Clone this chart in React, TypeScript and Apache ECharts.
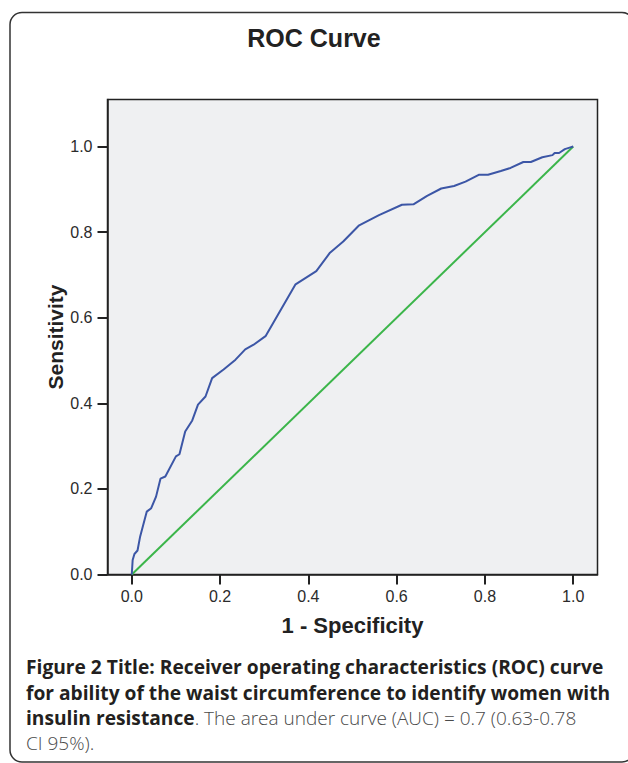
import React, { useEffect, useRef } from "react";
import * as echarts from "echarts";

// 1 - Specificity (false positive rate)
const fprValues = [
  0, 0.002, 0.006, 0.013, 0.019, 0.034, 0.044, 0.055, 0.065, 0.076, 0.1, 0.108,
  0.121, 0.137, 0.15, 0.167, 0.182, 0.208, 0.235, 0.257, 0.276, 0.303, 0.371,
  0.418, 0.449, 0.479, 0.514, 0.56, 0.612, 0.638, 0.669, 0.701, 0.73, 0.756,
  0.786, 0.807, 0.836, 0.858, 0.887, 0.904, 0.93, 0.953, 0.958, 0.968, 0.981,
  0.99, 1,
];
// Sensitivity (true positive rate)
const tprValues = [
  0, 0.034, 0.048, 0.056, 0.089, 0.147, 0.155, 0.182, 0.224, 0.229, 0.276,
  0.281, 0.334, 0.36, 0.397, 0.416, 0.459, 0.479, 0.502, 0.526, 0.537, 0.557,
  0.678, 0.709, 0.752, 0.778, 0.815, 0.84, 0.864, 0.865, 0.885, 0.902, 0.908,
  0.918, 0.934, 0.934, 0.943, 0.95, 0.964, 0.964, 0.975, 0.98, 0.985, 0.985,
  0.994, 0.997, 1,
];
// Reference (chance) diagonal
const refX = [0, 1];
const refY = [0, 1];

const xTicks = [0, 0.2, 0.4, 0.6, 0.8, 1.0];
const yTicks = [0, 0.2, 0.4, 0.6, 0.8, 1.0];

const chartTitle = "ROC Curve";
const xName = "1 - Specificity";
const yName = "Sensitivity";
const captionLines = [
  "{b|Figure 2 Title: Receiver operating characteristics (ROC) curve}",
  "{b|for ability of the waist circumference to identify women with}",
  "{b|insulin resistance}{n|. The area under curve (AUC) = 0.7 (0.63-0.78}",
  "{n|CI 95%).}",
];

export default function App() {
  const ref = useRef<HTMLDivElement>(null);

  useEffect(() => {
    if (!ref.current) return;
    const chart = echarts.init(ref.current, null, { renderer: "svg" });
    const axisFont = "'Liberation Sans', Arial, sans-serif";
    const capFont = "'Open Sans', 'Noto Sans', sans-serif";
    const lineCenters = [666, 692, 717.5, 743];

    chart.setOption({
      animation: false,
      backgroundColor: "#ffffff",
      grid: {
        left: 107.5,
        right: 30.5,
        top: 99.5,
        bottom: 188.5,
        show: true,
        backgroundColor: "#eff0f2",
        borderColor: "#222222",
        borderWidth: 1.5,
      },
      xAxis: {
        type: "value",
        min: -0.055,
        max: 1.055,
        name: xName,
        nameLocation: "middle",
        nameGap: 40,
        nameMoveOverlap: false,
        nameTextStyle: {
          fontFamily: axisFont,
          fontWeight: "bold",
          fontSize: 22,
          color: "#222222",
        },
        axisLine: { show: true, onZero: false, lineStyle: { color: "#222222", width: 1.5 } },
        axisTick: {
          show: true,
          length: 10,
          customValues: xTicks,
          lineStyle: { color: "#222222", width: 2 },
        },
        axisLabel: {
          customValues: xTicks,
          formatter: (v: number) => v.toFixed(1),
          fontFamily: axisFont,
          fontSize: 16,
          color: "#2b2b2b",
          margin: 14,
        },
        splitLine: { show: false },
      },
      yAxis: {
        type: "value",
        min: 0,
        max: 1.11,
        name: yName,
        nameLocation: "middle",
        nameGap: 42,
        nameMoveOverlap: false,
        nameTextStyle: {
          fontFamily: axisFont,
          fontWeight: "bold",
          fontSize: 21,
          color: "#222222",
        },
        axisLine: { show: true, onZero: false, lineStyle: { color: "#222222", width: 1.5 } },
        axisTick: {
          show: true,
          length: 10,
          customValues: yTicks,
          lineStyle: { color: "#222222", width: 2 },
        },
        axisLabel: {
          customValues: yTicks,
          formatter: (v: number) => v.toFixed(1),
          fontFamily: axisFont,
          fontSize: 16,
          color: "#2b2b2b",
          margin: 15,
        },
        splitLine: { show: false },
      },
      series: [
        {
          type: "line",
          name: "Reference",
          data: refX.map((x, i) => [x, refY[i]]),
          symbol: "none",
          lineStyle: { color: "#3bb54a", width: 2 },
          z: 2,
        },
        {
          type: "line",
          name: "Waist circumference",
          data: fprValues.map((x, i) => [x, tprValues[i]]),
          symbol: "none",
          lineStyle: { color: "#3c56a6", width: 2 },
          z: 3,
        },
      ],
      graphic: [
        {
          type: "rect",
          shape: { x: 10, y: 12.5, width: 624, height: 749.5, r: 12 },
          style: { fill: "none", stroke: "#333333", lineWidth: 1.5 },
          silent: true,
          z: 100,
        },
        {
          type: "text",
          x: 314,
          y: 37.5,
          style: {
            text: chartTitle,
            fontFamily: axisFont,
            fontWeight: "bold",
            fontSize: 25,
            fill: "#222222",
            align: "center",
            verticalAlign: "middle",
          },
        },
        ...captionLines.map((line, i) => ({
          type: "text",
          x: 26,
          y: lineCenters[i],
          style: {
            text: line,
            align: "left",
            verticalAlign: "middle",
            rich: {
              b: {
                fontFamily: capFont,
                fontWeight: "bold",
                fontSize: 19.2,
                lineHeight: 22,
                fill: "#231f20",
              },
              n: {
                fontFamily: capFont,
                fontWeight: 300,
                fontSize: 19,
                lineHeight: 22,
                fill: "#4a4a4a",
              },
            },
          },
        })),
      ],
    });

    return () => chart.dispose();
  }, []);

  return (
    <div
      ref={ref}
      style={{ position: "absolute", left: 0, top: 0, width: 628, height: 763, background: "#fff" }}
    />
  );
}
